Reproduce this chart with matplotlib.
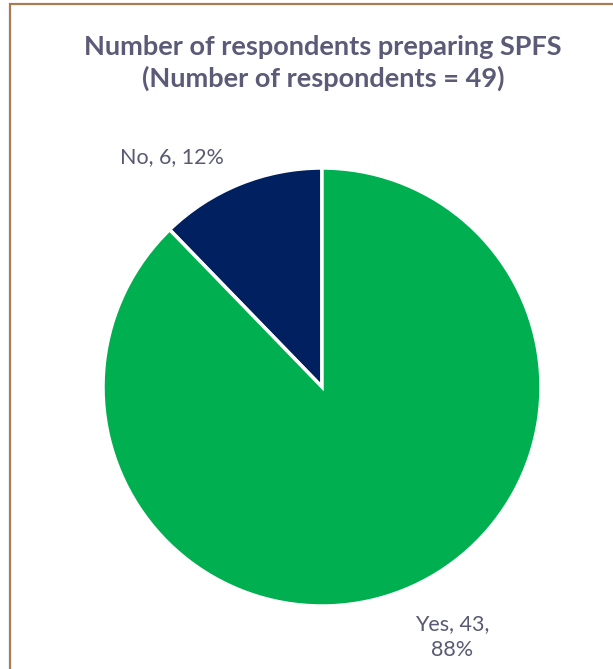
import matplotlib.pyplot as plt
from matplotlib.patches import Rectangle

# data
categories = ['No', 'Yes']
counts = [6, 43]
colors = ['#002060', '#00B050']
title = 'Number of respondents preparing SPFS\n(Number of respondents = 49)'

W, H = 613, 669
fig = plt.figure(figsize=(W / 100, H / 100), dpi=100)
ax = fig.add_axes([0, 0, 1, 1])

# outer frame (only top and left edges are visible in the crop)
ax.add_patch(Rectangle((9.5, -50), W + 100, H - 4 + 50, fill=False,
                       edgecolor='#A97B50', linewidth=1.6))

cx, cy, r = 322, H - 387, 219
ax.pie(counts, colors=colors, startangle=90, counterclock=True,
       center=(cx, cy), radius=r, frame=True,
       wedgeprops=dict(edgecolor='white', linewidth=2.5))
ax.set_xlim(0, W)
ax.set_ylim(0, H)
ax.set_aspect('equal')
ax.axis('off')

total = sum(counts)
txt = '#595973'
ax.text(172, H - 157, f'{categories[0]}, {counts[0]}, {counts[0] / total:.0%}',
        ha='center', va='center', fontsize=15.5, color=txt, family='Lato')
ax.text(452, H - 637, f'{categories[1]}, {counts[1]},\n{counts[1] / total:.0%}',
        ha='center', va='center', fontsize=15.5, color=txt, family='Lato',
        linespacing=1.35)

ax.text(323, H - 63, title, ha='center', va='center', fontsize=19.5,
        fontweight='bold', color='#5B5B78', family='Lato', linespacing=1.32)

fig.savefig('out.png', dpi=100)
